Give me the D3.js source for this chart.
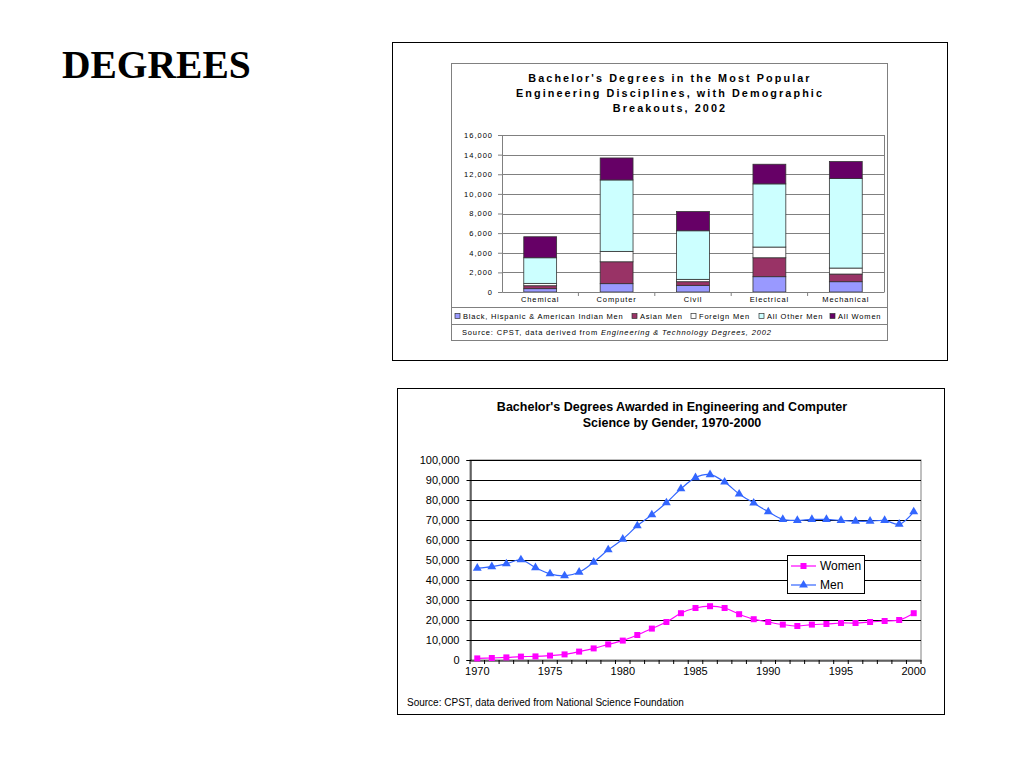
<!DOCTYPE html>
<html><head><meta charset="utf-8">
<script src="https://cdn.jsdelivr.net/npm/d3@7"></script>
<style>body{margin:0;background:#fff}svg{display:block}</style>
</head><body>
<svg id="c" width="1024" height="768" font-family="'Liberation Sans',Arial,sans-serif"></svg>
<script>
// ---- Data: top chart (stacked bars) ----
const disciplines = ["Chemical","Computer","Civil","Electrical","Mechanical"];
const groups = ["Black, Hispanic & American Indian Men","Asian Men","Foreign Men","All Other Men","All Women"];
const groupColors = ["#9999FF","#993366","#FFFFFF","#CCFFFF","#660066"];
const blackHispMen = [340, 850, 680, 1560, 1050];
const asianMen     = [300, 2230, 370, 1930, 780];
const foreignMen   = [240, 1060, 240, 1090, 610];
const otherMen     = [2610, 7280, 4950, 6440, 9120];
const allWomen     = [2140, 2240, 1960, 2000, 1730];
const barTicks = [0,2000,4000,6000,8000,10000,12000,14000,16000];

// ---- Data: bottom chart (lines) ----
const years = d3.range(1970, 2001);
const women = [800,1000,1300,1700,1800,2200,2800,4200,5800,7800,9700,12500,15700,19000,23400,26000,26900,26000,22900,20400,19000,17700,17000,17700,18000,18500,18500,19000,19500,20000,23400];
const men   = [45900,46700,48100,50100,46200,43100,42100,43900,48900,55100,60400,67100,72600,78600,85600,91200,92700,89000,83000,78500,74100,70300,69800,70300,70300,69800,69400,69400,69800,67900,74100];
const lineTicks = [0,10000,20000,30000,40000,50000,60000,70000,80000,90000,100000];
const yearLabels = [1970,1975,1980,1985,1990,1995,2000];

const svg = d3.select("#c");
svg.append("rect").attr("width",1024).attr("height",768).attr("fill","#fff");

// Heading
svg.append("text").attr("x",62).attr("y",78).style("font-family","'Liberation Serif','Times New Roman',serif")
  .attr("font-weight","bold").attr("font-size",39.5).text("DEGREES");

// ===== Top chart =====
svg.append("rect").attr("x",392.5).attr("y",42.5).attr("width",555).attr("height",318).attr("fill","none").attr("stroke","#000");
svg.append("rect").attr("x",451.5).attr("y",63.5).attr("width",436).attr("height",277).attr("fill","#fff").attr("stroke","#808080");

const tTitle = ["Bachelor's Degrees in the Most Popular","Engineering Disciplines, with Demographic","Breakouts, 2002"];
tTitle.forEach((t,i)=>svg.append("text").attr("x",670).attr("y",82+i*15).attr("text-anchor","middle")
  .attr("font-weight","bold").attr("font-size",10.8).attr("letter-spacing",2.1).text(t));

const xb = d3.scaleBand().domain(disciplines).range([502,884]).paddingInner(0.57).paddingOuter(0.285);
const yb = d3.scaleLinear().domain([0,16000]).range([292,135]);
const gTop = svg.append("g");
gTop.selectAll("line.g").data(barTicks.slice(1)).join("line")
  .attr("x1",502).attr("x2",884).attr("y1",d=>Math.round(yb(d))+0.5).attr("y2",d=>Math.round(yb(d))+0.5)
  .attr("stroke","#808080");
gTop.append("line").attr("x1",884.5).attr("x2",884.5).attr("y1",135).attr("y2",292).attr("stroke","#808080");
const stackData = disciplines.map((d,i)=>({cat:d, v0:blackHispMen[i], v1:asianMen[i], v2:foreignMen[i], v3:otherMen[i], v4:allWomen[i]}));
const stacked = d3.stack().keys(["v0","v1","v2","v3","v4"])(stackData);
stacked.forEach((s,k)=>{
  gTop.selectAll(null).data(s).join("rect")
    .attr("x",d=>xb(d.data.cat)).attr("width",xb.bandwidth())
    .attr("y",d=>yb(d[1])).attr("height",d=>yb(d[0])-yb(d[1]))
    .attr("fill",groupColors[k]).attr("stroke","#333").attr("stroke-width",0.8);
});
const axL = gTop.append("g").attr("transform","translate(502,0)")
  .call(d3.axisLeft(yb).tickValues(barTicks).tickSize(4).tickFormat(d3.format(",")));
axL.selectAll("text").attr("font-size",7.5).attr("letter-spacing",1).attr("fill","#000").attr("dx",-2);
axL.selectAll("line,path").attr("stroke","#808080");
const axB = gTop.append("g").attr("transform","translate(0,292)").call(d3.axisBottom(xb).tickSize(0));
axB.selectAll("text").attr("font-size",7.5).attr("letter-spacing",0.9).attr("fill","#000").attr("dy","0.9em");
axB.select("path").attr("stroke","#808080");
gTop.selectAll("line.tb").data(disciplines.slice(1)).join("line")
  .attr("x1",d=>xb(d)-xb.step()*xb.paddingInner()/2).attr("x2",d=>xb(d)-xb.step()*xb.paddingInner()/2)
  .attr("y1",292).attr("y2",296).attr("stroke","#808080");

// legend
svg.append("line").attr("x1",452).attr("x2",887).attr("y1",307.5).attr("y2",307.5).attr("stroke","#808080");
svg.append("line").attr("x1",452).attr("x2",887).attr("y1",324.5).attr("y2",324.5).attr("stroke","#808080");
const legX = [455, 632, 691, 759, 830];
groups.forEach((g,i)=>{
  svg.append("rect").attr("x",legX[i]).attr("y",313.5).attr("width",5).attr("height",5)
    .attr("fill",groupColors[i]).attr("stroke","#333").attr("stroke-width",0.7);
  svg.append("text").attr("x",legX[i]+8).attr("y",319).attr("font-size",7.5).attr("letter-spacing",0.8).text(g);
});
const src = svg.append("text").attr("x",462).attr("y",335).attr("font-size",7.5).attr("letter-spacing",0.85);
src.append("tspan").text("Source: CPST, data derived from ");
src.append("tspan").attr("font-style","italic").text("Engineering & Technology Degrees, 2002");

// ===== Bottom chart =====
svg.append("rect").attr("x",397.5).attr("y",388.5).attr("width",547).attr("height",326).attr("fill","none").attr("stroke","#000");
["Bachelor's Degrees Awarded in Engineering and Computer","Science by Gender, 1970-2000"].forEach((t,i)=>
  svg.append("text").attr("x",672).attr("y",411+i*16).attr("text-anchor","middle").attr("font-weight","bold")
    .attr("font-size",12.5).text(t));

const xl = d3.scaleBand().domain(years).range([470,921]);
const yl = d3.scaleLinear().domain([0,100000]).range([660,460]);
const gB = svg.append("g");
gB.append("rect").attr("x",470).attr("y",460).attr("width",451).attr("height",200).attr("fill","#fff").attr("stroke","#808080");
gB.selectAll("line.g").data(lineTicks.slice(1)).join("line")
  .attr("x1",470).attr("x2",921).attr("y1",d=>yl(d)+0.5).attr("y2",d=>yl(d)+0.5).attr("stroke","#000");
const ayL = gB.append("g").attr("transform","translate(470.5,0)")
  .call(d3.axisLeft(yl).tickValues(lineTicks).tickSize(4).tickFormat(d3.format(",")));
ayL.selectAll("text").attr("font-size",11).attr("fill","#000").attr("dx",-4);
ayL.selectAll("line,path").attr("stroke","#000");
const ayB = gB.append("g").attr("transform","translate(0,660.5)")
  .call(d3.axisBottom(xl).tickValues(yearLabels).tickSize(0));
ayB.selectAll("text").attr("font-size",11).attr("fill","#000").attr("dy","1.05em");
ayB.select("path").attr("stroke","#000");
gB.selectAll("line.tk").data(years.concat([2001])).join("line")
  .attr("x1",d=>470+(d-1970)*xl.step()).attr("x2",d=>470+(d-1970)*xl.step())
  .attr("y1",660).attr("y2",664).attr("stroke","#000");

const cx = d=>xl(d)+xl.bandwidth()/2;
const lineGen = (vals)=>d3.line().x((d,i)=>cx(years[i])).y(d=>yl(d)).curve(d3.curveCatmullRom.alpha(0.5))(vals);
gB.append("path").attr("d",lineGen(men)).attr("fill","none").attr("stroke","#3366FF").attr("stroke-width",1.2);
gB.append("path").attr("d",lineGen(women)).attr("fill","none").attr("stroke","#FF00FF").attr("stroke-width",1.2);
const tri = d3.symbol().type(d3.symbolTriangle).size(34);
gB.selectAll("path.m").data(men).join("path").attr("d",tri)
  .attr("transform",(d,i)=>`translate(${cx(years[i])},${yl(d)})`).attr("fill","#3366FF");
gB.selectAll("rect.w").data(women).join("rect")
  .attr("x",(d,i)=>cx(years[i])-3).attr("y",d=>yl(d)-3).attr("width",6).attr("height",6).attr("fill","#FF00FF");

// legend
svg.append("rect").attr("x",787.5).attr("y",555.5).attr("width",77).attr("height",38).attr("fill","#fff").attr("stroke","#000");
svg.append("line").attr("x1",791).attr("x2",816).attr("y1",566).attr("y2",566).attr("stroke","#FF00FF").attr("stroke-width",1.2);
svg.append("rect").attr("x",800.5).attr("y",563).attr("width",6).attr("height",6).attr("fill","#FF00FF");
svg.append("text").attr("x",820).attr("y",570).attr("font-size",12).text("Women");
svg.append("line").attr("x1",791).attr("x2",816).attr("y1",585).attr("y2",585).attr("stroke","#3366FF").attr("stroke-width",1.2);
svg.append("path").attr("d",tri).attr("transform","translate(803.5,585)").attr("fill","#3366FF");
svg.append("text").attr("x",820).attr("y",589).attr("font-size",12).text("Men");

svg.append("text").attr("x",407).attr("y",706).attr("font-size",10).attr("letter-spacing",0)
  .text("Source: CPST, data derived from National Science Foundation");
</script>
</body></html>
